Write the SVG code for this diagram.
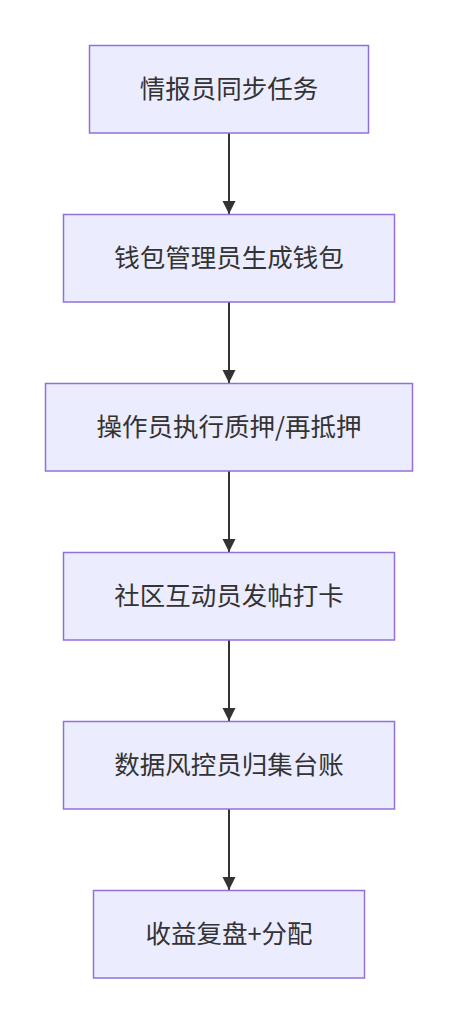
<svg xmlns="http://www.w3.org/2000/svg" width="458" height="1024" viewBox="0 0 458 1024">
<style>
.node rect{fill:#ECECFF;stroke:#9370DB;stroke-width:1.5}
.node text{font-family:"Noto Sans CJK SC","Noto Sans",sans-serif;font-size:25.5px;fill:#333;text-anchor:middle}
.edge{stroke:#333;stroke-width:2;fill:none}
</style>
<defs>
<marker id="arrow" markerUnits="userSpaceOnUse" markerWidth="13" markerHeight="14" refX="13" refY="6.5" orient="auto">
<path d="M0,0 L13,6.5 L0,13 Z" fill="#333"/>
</marker>
</defs>
<rect width="458" height="1024" fill="#fff"/>
<g id="connectors">
<line class="edge" x1="229" y1="133" x2="229" y2="214" marker-end="url(#arrow)"/>
<line class="edge" x1="229" y1="302" x2="229" y2="383" marker-end="url(#arrow)"/>
<line class="edge" x1="229" y1="471" x2="229" y2="552" marker-end="url(#arrow)"/>
<line class="edge" x1="229" y1="640" x2="229" y2="721" marker-end="url(#arrow)"/>
<line class="edge" x1="229" y1="809" x2="229" y2="890" marker-end="url(#arrow)"/>
</g>
<g id="n1" class="node"><rect x="89.5" y="45.5" width="279" height="87.5"/><text x="229" y="98">情报员同步任务</text></g>
<g id="n2" class="node"><rect x="63.5" y="214.5" width="331" height="87.5"/><text x="229" y="267">钱包管理员生成钱包</text></g>
<g id="n3" class="node"><rect x="45.5" y="383.5" width="367" height="87.5"/><text x="229" y="436">操作员执行质押/再抵押</text></g>
<g id="n4" class="node"><rect x="63.5" y="552.5" width="331" height="87.5"/><text x="229" y="605">社区互动员发帖打卡</text></g>
<g id="n5" class="node"><rect x="63.5" y="721.5" width="331" height="87.5"/><text x="229" y="774">数据风控员归集台账</text></g>
<g id="n6" class="node"><rect x="93.5" y="890.5" width="271" height="87.5"/><text x="229" y="943">收益复盘+分配</text></g>
</svg>
